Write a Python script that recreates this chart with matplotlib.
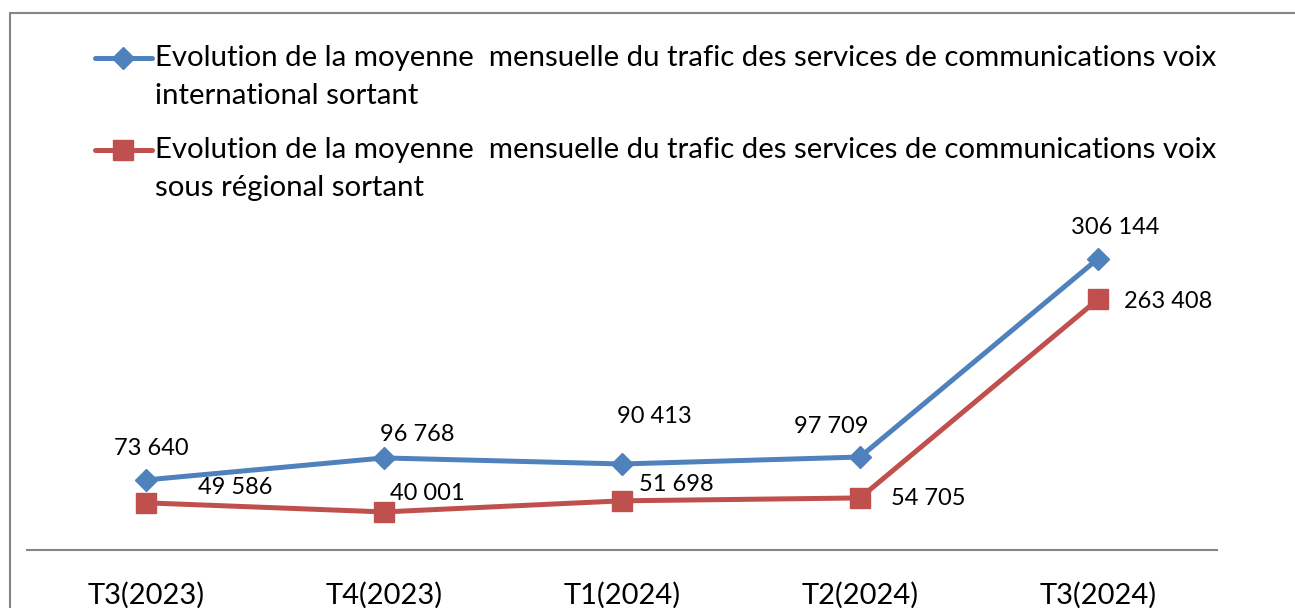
import matplotlib.pyplot as plt
from matplotlib.lines import Line2D
from matplotlib.patches import Rectangle

plt.rcParams['font.family'] = ['Lato', 'DejaVu Sans']

# Données
periodes = ['T3(2023)', 'T4(2023)', 'T1(2024)', 'T2(2024)', 'T3(2024)']
trafic_international = [73640, 96768, 90413, 97709, 306144]
trafic_sous_regional = [49586, 40001, 51698, 54705, 263408]
legende_international = ['Evolution de la moyenne  mensuelle du trafic des services de communications voix',
                         'international sortant']
legende_sous_regional = ['Evolution de la moyenne  mensuelle du trafic des services de communications voix',
                         'sous régional sortant']

bleu = '#4F81BD'
rouge = '#C0504D'
gris = '#868686'

W, H = 1295, 608
fig = plt.figure(figsize=(W / 100, H / 100), dpi=100)

# Cadre du graphique (coupé en bas et à droite)
fig.add_artist(Rectangle((10 / W, -0.1), 1.2, 1.1 - 13 / H, transform=fig.transFigure,
                         fill=False, edgecolor=gris, linewidth=1.5))

ax = fig.add_axes([27 / W, 58 / H, 1190 / W, 333 / H])
x = list(range(len(periodes)))

ax.plot(x, trafic_international, color=bleu, linewidth=3.6, marker='D', markersize=11,
        markerfacecolor=bleu, markeredgecolor=bleu)
ax.plot(x, trafic_sous_regional, color=rouge, linewidth=3.6, marker='s', markersize=14,
        markerfacecolor=rouge, markeredgecolor=rouge)

ax.set_xlim(-0.5, len(periodes) - 0.5)
ax.set_ylim(0, 350000)
ax.set_xticks(x)
ax.set_xticklabels(periodes, fontsize=21)
ax.tick_params(axis='x', length=0, pad=23)
ax.set_yticks([])
for s in ['left', 'right', 'top']:
    ax.spines[s].set_visible(False)
ax.spines['bottom'].set_color(gris)
ax.spines['bottom'].set_linewidth(1.5)
ax.patch.set_alpha(0)


def fmt(v):
    return f"{v:,}".replace(',', ' ')


# Décalage des étiquettes (pixels)
decal_bleu = [(5, 31), (33, 23), (32, 47), (-29, 31), (17, 31)]
decal_rouge = [(89, 15), (43, 18), (54, 16), (68, -1), (70, -2)]

for i, v in enumerate(trafic_international):
    ax.annotate(fmt(v), (i, v), xytext=decal_bleu[i], textcoords='offset pixels',
                ha='center', va='center', fontsize=17)
for i, v in enumerate(trafic_sous_regional):
    ax.annotate(fmt(v), (i, v), xytext=decal_rouge[i], textcoords='offset pixels',
                ha='center', va='center', fontsize=17)

# Légende
for yl, couleur, marq, ms, lignes in [(58, bleu, 'D', 11, legende_international),
                                      (150, rouge, 's', 14, legende_sous_regional)]:
    fig.add_artist(Line2D([95 / W, 152 / W], [1 - yl / H] * 2, transform=fig.transFigure,
                          color=couleur, linewidth=3.6, solid_capstyle='round'))
    fig.add_artist(Line2D([123 / W], [1 - yl / H], transform=fig.transFigure, color=couleur,
                          marker=marq, markersize=ms, linestyle='none'))
    fig.text(155 / W, 1 - yl / H, lignes[0], fontsize=21.2, va='center', ha='left')
    fig.text(155 / W, 1 - (yl + 38) / H, lignes[1], fontsize=21.2, va='center', ha='left')

fig.savefig('out.png', dpi=100)
